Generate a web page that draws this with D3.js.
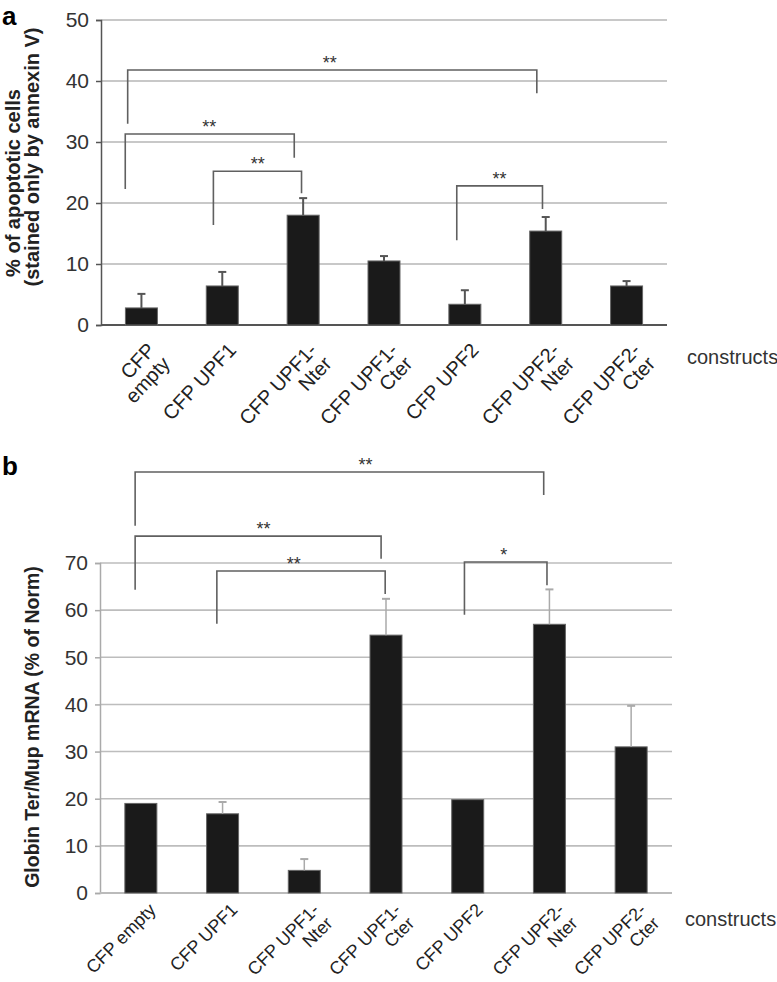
<!DOCTYPE html>
<html><head><meta charset="utf-8">
<script src="https://cdn.jsdelivr.net/npm/d3@7"></script>
<style>body{margin:0;background:#fff} text{font-family:"Liberation Sans", Arial, sans-serif}</style>
</head><body><svg id="c" width="777" height="982"></svg>
<script>
// ---------- data ----------
const categoriesA = [["CFP","empty"],["CFP UPF1"],["CFP UPF1-","Nter"],["CFP UPF1-","Cter"],["CFP UPF2"],["CFP UPF2-","Nter"],["CFP UPF2-","Cter"]];
const categoriesB = [["CFP empty"],["CFP UPF1"],["CFP UPF1-","Nter"],["CFP UPF1-","Cter"],["CFP UPF2"],["CFP UPF2-","Nter"],["CFP UPF2-","Cter"]];
const apoptosisMean = [2.8, 6.4, 18.0, 10.5, 3.4, 15.4, 6.4];
const apoptosisErr  = [2.3, 2.3, 2.8, 0.8, 2.3, 2.3, 0.8];
const mrnaMean = [19.0, 16.8, 4.8, 54.7, 19.8, 57.0, 31.0];
const mrnaErr  = [0, 2.5, 2.4, 7.7, 0, 7.4, 8.7];
const ticksA = [0, 10, 20, 30, 40, 50];
const ticksB = [0, 10, 20, 30, 40, 50, 60, 70];
const titleA = ["% of apoptotic cells", "(stained only by annexin V)"];
const titleB = "Globin Ter/Mup mRNA (% of Norm)";
const xTitle = "constructs";
// significance brackets (category index units, value units)
const bracketsA = [
  {from:-0.17, to:4.89, level:41.8, fromEnd:33.0, toEnd:38.0, at:2.33, label:"**"},
  {from:-0.20, to:1.89, level:31.3, fromEnd:22.3, toEnd:27.4, at:0.84, label:"**"},
  {from:0.89, to:1.98, level:25.2, fromEnd:16.4, toEnd:21.6, at:1.44, label:"**"},
  {from:3.90, to:4.96, level:22.8, fromEnd:13.9, toEnd:19.0, at:4.43, label:"**"}];
const bracketsB = [
  {from:-0.07, to:4.93, level:89.3, fromEnd:77.9, toEnd:84.4, at:2.75, label:"**"},
  {from:-0.07, to:2.94, level:75.7, fromEnd:64.3, toEnd:70.9, at:1.50, label:"**"},
  {from:0.93, to:2.99, level:68.3, fromEnd:57.1, toEnd:63.4, at:1.87, label:"**"},
  {from:3.96, to:4.97, level:70.2, fromEnd:59.0, toEnd:65.3, at:4.44, label:"*"}];

const svg = d3.select("#c");

function panel(o){
  const g = svg.append("g");
  const idx = d3.range(o.means.length);
  const x = d3.scaleBand().domain(idx).range([o.x0, o.x1]);
  const xi = d3.scaleLinear().domain([-0.5, o.means.length - 0.5]).range([o.x0, o.x1]);
  const y = d3.scaleLinear().domain([0, o.ymax]).range([o.yb, o.yt]);
  const bw = 32;
  // gridlines
  g.append("g").selectAll("line").data(o.ticks.filter(t => t > 0)).join("line")
    .attr("x1", o.x0).attr("x2", o.x1).attr("y1", d => y(d)).attr("y2", d => y(d))
    .attr("stroke", o.gridColor).attr("stroke-width", o.gridW);
  // y axis
  const ax = g.append("g").attr("transform", `translate(${o.x0},0)`)
    .call(d3.axisLeft(y).tickValues(o.ticks).tickSize(5).tickPadding(7));
  ax.select(".domain").attr("stroke", o.axisColor).attr("stroke-width", o.axisW);
  ax.selectAll(".tick line").attr("stroke", o.axisColor).attr("stroke-width", 1.5);
  ax.selectAll(".tick text").attr("font-size", 21).attr("fill", "#333")
    .attr("font-family", "Liberation Sans, Arial, sans-serif");
  // baseline
  g.append("line").attr("x1", o.x0).attr("x2", o.x1).attr("y1", y(0)).attr("y2", y(0))
    .attr("stroke", o.baseColor).attr("stroke-width", 2);
  // bars
  g.append("g").selectAll("rect").data(idx).join("rect")
    .attr("x", i => x(i) + x.bandwidth()/2 - bw/2).attr("width", bw)
    .attr("y", i => y(o.means[i])).attr("height", i => y(0) - y(o.means[i]))
    .attr("fill", "#1a1a1a").attr("stroke", "#666").attr("stroke-width", 1);
  // error bars
  const eb = g.append("g").selectAll("g").data(idx.filter(i => o.errs[i] > 0)).join("g");
  eb.append("line").attr("x1", i => x(i) + x.bandwidth()/2).attr("x2", i => x(i) + x.bandwidth()/2)
    .attr("y1", i => y(o.means[i])).attr("y2", i => y(o.means[i] + o.errs[i]))
    .attr("stroke", o.errColor).attr("stroke-width", o.errW);
  eb.append("line").attr("x1", i => x(i) + x.bandwidth()/2 - 4).attr("x2", i => x(i) + x.bandwidth()/2 + 4)
    .attr("y1", i => y(o.means[i] + o.errs[i])).attr("y2", i => y(o.means[i] + o.errs[i]))
    .attr("stroke", o.errColor).attr("stroke-width", 2);
  // brackets
  const br = g.append("g").selectAll("g").data(o.brackets).join("g");
  br.append("path").attr("fill", "none").attr("stroke", "#606060").attr("stroke-width", 1.6)
    .attr("d", d => `M${xi(d.from)},${y(d.fromEnd)}V${y(d.level)}H${xi(d.to)}V${y(d.toEnd)}`);
  br.append("text").attr("x", d => xi(d.at)).attr("y", d => y(d.level) - 1)
    .attr("text-anchor", "middle").attr("font-size", 18).attr("fill", "#333").text(d => d.label);
  // category labels
  const lab = g.append("g").selectAll("g").data(idx).join("g")
    .attr("transform", i => `translate(${x(i) + x.bandwidth()/2 + o.labDx},${y(0) + o.labDy}) rotate(${o.labRot})`);
  lab.each(function(i){
    const sel = d3.select(this);
    o.cats[i].forEach((t, k) => {
      sel.append("text").attr("x", 0).attr("y", k * o.labLh).attr("text-anchor", "end")
        .attr("font-size", o.labFs).attr("fill", "#222").text(t);
    });
  });
  g.append("text").attr("x", o.consX).attr("y", o.consY).attr("font-size", 20).attr("fill", "#333").text(xTitle);
  return g;
}

panel({x0:101, x1:667, yb:325, yt:20, ymax:50, ticks:ticksA, means:apoptosisMean, errs:apoptosisErr,
  brackets:bracketsA, cats:categoriesA, gridColor:"#c8c8c8", gridW:2, axisColor:"#555", axisW:1.5,
  baseColor:"#555", errColor:"#555", errW:2, labDx:15, labDy:26, labRot:-47, labFs:20, labLh:20,
  consX:687, consY:364});
panel({x0:100, x1:672, yb:893, yt:563, ymax:70, ticks:ticksB, means:mrnaMean, errs:mrnaErr,
  brackets:bracketsB, cats:categoriesB, gridColor:"#bdbdbd", gridW:1.6, axisColor:"#aaa", axisW:1.5,
  baseColor:"#bbb", errColor:"#aaa", errW:1.5, labDx:16, labDy:18, labRot:-45, labFs:18, labLh:19,
  consX:685, consY:926});

// axis titles
svg.append("text").attr("transform", "translate(20,183) rotate(-90)").attr("text-anchor", "middle")
  .attr("font-size", 20).attr("font-weight", "bold").attr("fill", "#222").text(titleA[0]);
svg.append("text").attr("transform", "translate(39,157) rotate(-90)").attr("text-anchor", "middle")
  .attr("font-size", 20).attr("font-weight", "bold").attr("fill", "#222").text(titleA[1]);
svg.append("text").attr("transform", "translate(39,727) rotate(-90)").attr("text-anchor", "middle")
  .attr("font-size", 19.5).attr("font-weight", "bold").attr("fill", "#222").text(titleB);
// panel letters
svg.append("text").attr("x", 2).attr("y", 25).attr("font-size", 26).attr("font-weight", "bold").text("a");
svg.append("text").attr("x", 2).attr("y", 475).attr("font-size", 26).attr("font-weight", "bold").text("b");
</script></body></html>
